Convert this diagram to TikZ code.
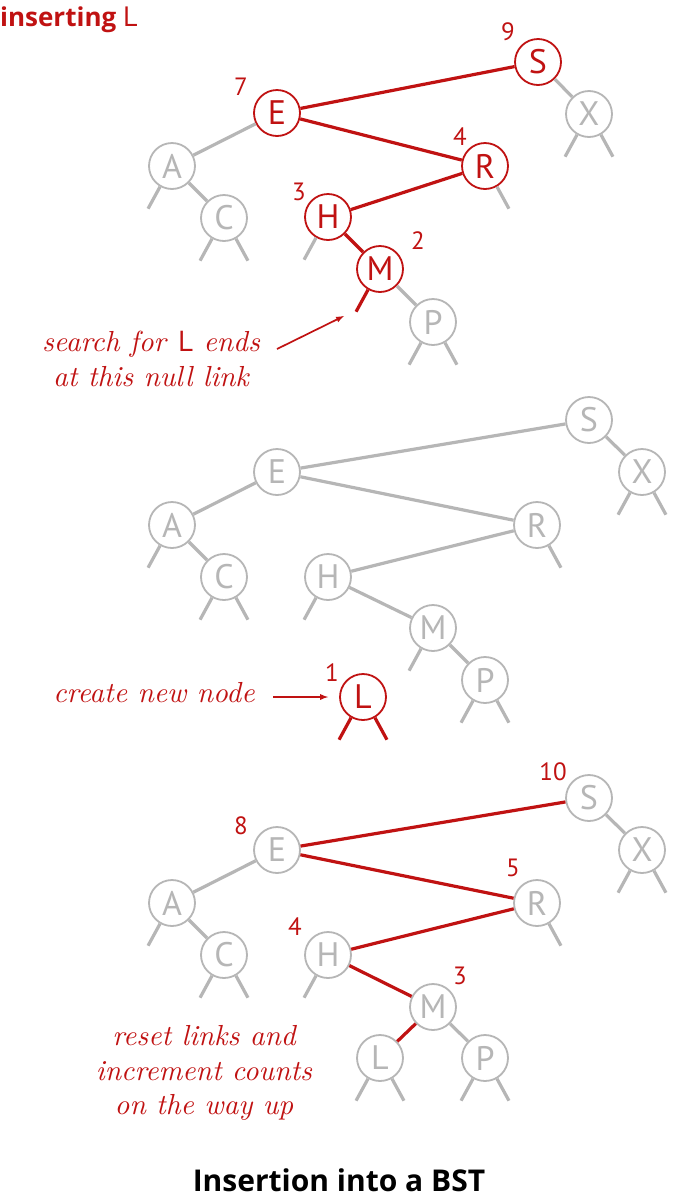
\documentclass[tikz,border=0pt]{standalone}
\usepackage{fontspec}
\setsansfont{PT Sans}
\newfontfamily\headfont{Open Sans}
\newfontfamily\notefont{lmroman10-italic.otf}
\usetikzlibrary{positioning}
\definecolor{bstred}{RGB}{192,18,18}
\definecolor{bstgray}{RGB}{182,182,182}

\tikzset{
  key/.style={circle,draw=bstgray,fill=white,text=bstgray,line width=1.8pt,minimum size=46pt,inner sep=0pt,font=\sffamily\fontsize{34}{34}\selectfont},
  hot/.style={key,draw=bstred,text=bstred},
  link/.style={draw=bstgray,line width=3.2pt},
  hotlink/.style={link,draw=bstred},
  cnt/.style={text=bstred,inner sep=0pt,font=\sffamily\fontsize{25}{25}\selectfont},
  note/.style={text=bstred,align=center,inner sep=0pt,font=\notefont\fontsize{29}{34.5}\selectfont},
  arr/.style={->,draw=bstred,line width=1.7pt}
}

\begin{document}
\begin{tikzpicture}[x=1pt,y=1pt,>=latex]
  \useasboundingbox (0,0) rectangle (678,-1200);

  % top tree: search path
  \node[anchor=base west,text=bstred,inner sep=0pt,font=\headfont\bfseries\fontsize{26}{26}\selectfont] (head) at (0,-26) {inserting \sffamily\mdseries\fontsize{28}{28}\selectfont L};
  \node[hot] (s1) at (538,-62) {S};
  \node[key] (x1) at (589,-114) {X};
  \node[hot] (e1) at (277,-113) {E};
  \node[hot] (r1) at (485,-166) {R};
  \node[key] (a1) at (172,-166) {A};
  \node[key] (c1) at (224,-218) {C};
  \node[hot] (h1) at (328,-217) {H};
  \node[hot] (m1) at (380,-269) {M};
  \node[key] (p1) at (433,-322) {P};
  \draw[hotlink] (e1) -- (s1);
  \draw[hotlink] (e1) -- (r1);
  \draw[hotlink] (r1) -- (h1);
  \draw[hotlink] (h1) -- (m1);
  \draw[link] (e1) -- (a1);
  \draw[link] (a1) -- (c1);
  \draw[link] (s1) -- (x1);
  \draw[link] (m1) -- (p1);
  \foreach \n in {a1,c1,h1,p1,x1} \draw[link] (\n.-120) -- ++(-12,-22);
  \foreach \n in {c1,r1,p1,x1} \draw[link] (\n.-60) -- ++(12,-22);
  \draw[hotlink] (m1.-120) -- ++(-12,-22);
  \node[cnt] (cs1) at (508,-32) {9};
  \node[cnt] (ce1) at (241,-87) {7};
  \node[cnt] (cr1) at (460,-137) {4};
  \node[cnt] (ch1) at (299,-192) {3};
  \node[cnt] (cm1) at (418,-241) {2};
  \node[note] (srch) at (151,-359) {search for \textsf{L} ends\\at this null link};
  \coordinate (tail1) at (277,-349);
  \coordinate (tip1) at (344,-316);
  \draw[arr] (tail1) -- (tip1);

  % middle tree: new node
  \node[key] (s2) at (589,-420) {S};
  \node[key] (x2) at (642,-472) {X};
  \node[key] (e2) at (277,-472) {E};
  \node[key] (r2) at (537,-525) {R};
  \node[key] (a2) at (172,-525) {A};
  \node[key] (c2) at (224,-577) {C};
  \node[key] (h2) at (328,-577) {H};
  \node[key] (m2) at (433,-628) {M};
  \node[key] (p2) at (485,-680) {P};
  \node[hot] (l2) at (363,-697) {L};
  \draw[link] (e2) -- (s2);
  \draw[link] (e2) -- (r2);
  \draw[link] (r2) -- (h2);
  \draw[link] (h2) -- (m2);
  \draw[link] (e2) -- (a2);
  \draw[link] (a2) -- (c2);
  \draw[link] (s2) -- (x2);
  \draw[link] (m2) -- (p2);
  \foreach \n in {a2,c2,h2,m2,p2,x2} \draw[link] (\n.-120) -- ++(-12,-22);
  \foreach \n in {c2,r2,p2,x2} \draw[link] (\n.-60) -- ++(12,-22);
  \draw[hotlink] (l2.-120) -- ++(-12,-22);
  \draw[hotlink] (l2.-60) -- ++(12,-22);
  \node[cnt] (cl2) at (332,-673) {1};
  \node[note,anchor=base] (mk) at (154,-702) {create new node};
  \coordinate (tail2) at (273,-697);
  \draw[arr] (tail2) -- ([xshift=-11pt]l2.west);

  % bottom tree: counts on the way up
  \node[key] (s3) at (589,-798) {S};
  \node[key] (x3) at (642,-850) {X};
  \node[key] (e3) at (277,-850) {E};
  \node[key] (r3) at (537,-903) {R};
  \node[key] (a3) at (172,-903) {A};
  \node[key] (c3) at (224,-955) {C};
  \node[key] (h3) at (328,-955) {H};
  \node[key] (m3) at (433,-1007) {M};
  \node[key] (l3) at (380,-1058) {L};
  \node[key] (p3) at (485,-1058) {P};
  \draw[hotlink] (e3) -- (s3);
  \draw[hotlink] (e3) -- (r3);
  \draw[hotlink] (r3) -- (h3);
  \draw[hotlink] (h3) -- (m3);
  \draw[hotlink] (m3) -- (l3);
  \draw[link] (e3) -- (a3);
  \draw[link] (a3) -- (c3);
  \draw[link] (s3) -- (x3);
  \draw[link] (m3) -- (p3);
  \foreach \n in {a3,c3,h3,l3,p3,x3} \draw[link] (\n.-120) -- ++(-12,-22);
  \foreach \n in {c3,r3,l3,p3,x3} \draw[link] (\n.-60) -- ++(12,-22);
  \node[cnt] (cs3) at (553,-772) {10};
  \node[cnt] (ce3) at (241,-826) {8};
  \node[cnt] (cr3) at (513,-868) {5};
  \node[cnt] (ch3) at (295,-927) {4};
  \node[cnt] (cm3) at (460,-976) {3};
  \node[note] (rset) at (204,-1073) {reset links and\\increment counts\\on the way up};

  \node[anchor=base,inner sep=0pt,font=\headfont\bfseries\fontsize{30}{30}\selectfont] (title) at (339,-1191) {Insertion into a BST};
\end{tikzpicture}
\end{document}
